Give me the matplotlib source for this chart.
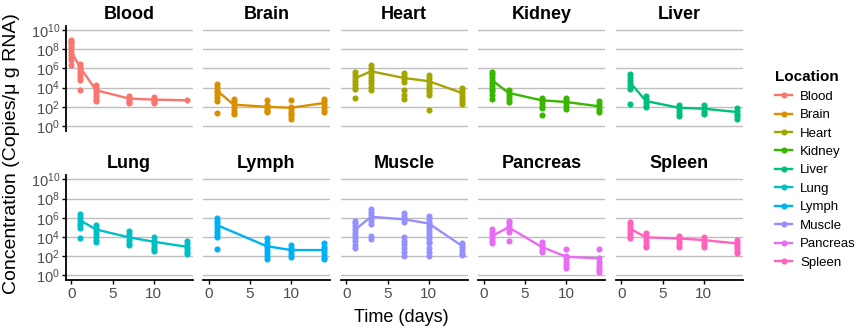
import matplotlib
matplotlib.use("Agg")
import matplotlib.pyplot as plt
from matplotlib.lines import Line2D

plt.rcParams['font.family'] = ['Liberation Sans', 'DejaVu Sans']
plt.rcParams['mathtext.fontset'] = 'custom'
plt.rcParams['mathtext.rm'] = 'Liberation Sans'

organs = ["Blood", "Brain", "Heart", "Kidney", "Liver",
          "Lung", "Lymph", "Muscle", "Pancreas", "Spleen"]
colors = ["#F8766D", "#D89000", "#A3A500", "#39B600", "#00BF7D",
          "#00BFC4", "#00B0F6", "#9590FF", "#E76BF3", "#FF62BC"]

# values are log10(copies / ug RNA)
days = [1, 3, 7, 10, 14]

blood_days = [0, 1, 3, 7, 10, 14]
blood_pts = [[8.95, 8.8, 8.6, 8.3, 8.0, 7.7, 7.4, 7.1, 6.9, 6.34],
             [6.5, 6.2, 5.9, 5.6, 5.3, 5.0, 4.8, 3.73],
             [4.25, 4.0, 3.7, 3.4, 3.1, 2.8, 2.6],
             [3.1, 2.9, 2.7, 2.5, 2.35],
             [3.0, 2.85, 2.7, 2.5, 2.4],
             [2.68]]
blood_line = [7.8, 6.2, 3.73, 2.86, 2.75, 2.68]

brain_pts = [[4.36, 4.1, 3.8, 3.5, 3.2, 2.9, 2.6, 1.36],
             [2.86, 2.6, 2.3, 2.0, 1.7, 1.4, 1.22],
             [2.75, 2.2, 2.0, 1.8, 1.6, 1.46],
             [2.75, 2.0, 1.8, 1.5, 1.2, 1.0, 0.77],
             [2.86, 2.6, 2.3, 2.0, 1.7, 1.46]]
brain_line = [3.7, 2.23, 2.0, 1.9, 2.4]

heart_pts = [[5.64, 5.3, 5.0, 4.7, 4.4, 4.1, 3.9, 2.96],
             [6.34, 6.0, 5.7, 5.4, 5.1, 4.8, 4.5, 4.1, 3.8],
             [5.47, 5.2, 4.9, 4.6, 3.73, 3.2, 2.86],
             [5.3, 5.0, 4.7, 4.4, 4.1, 3.8, 3.5, 3.2, 1.7],
             [4.0, 3.7, 3.4, 3.1, 2.8, 2.5, 2.33]]
heart_line = [4.95, 5.7, 5.0, 4.67, 3.45]

kidney_pts = [[5.64, 5.4, 5.1, 4.8, 4.5, 4.2, 3.9, 3.6, 3.2, 2.86],
              [3.73, 3.4, 3.1, 2.8, 2.5],
              [2.96, 2.7, 2.4, 2.1, 1.92, 1.11],
              [2.96, 2.7, 2.4, 2.1, 1.8],
              [2.6, 2.3, 2.0, 1.7, 1.46]]
kidney_line = [4.77, 3.45, 2.68, 2.5, 2.05]

liver_pts = [[5.4, 5.1, 4.8, 4.5, 4.2, 3.9, 2.33],
             [3.1, 2.8, 2.5, 2.2, 1.99],
             [2.16, 1.9, 1.6, 1.3, 1.0],
             [2.16, 1.9, 1.6, 1.4, 1.22],
             [1.88, 1.6, 1.3, 1.0, 0.77]]
liver_line = [4.6, 2.6, 1.9, 1.8, 1.46]

lung_pts = [[6.38, 6.1, 5.8, 5.5, 5.2, 4.89, 3.91],
            [5.23, 4.9, 4.6, 4.3, 4.0, 3.7, 3.5],
            [4.64, 4.3, 4.0, 3.7, 3.4, 3.15],
            [3.95, 3.6, 3.3, 3.0, 2.7, 2.56],
            [3.6, 3.3, 3.0, 2.7, 2.4, 2.2]]
lung_line = [5.76, 4.78, 3.95, 3.5, 2.97]

lymph_days = [1, 7, 10, 14]
lymph_pts = [[6.0, 5.7, 5.4, 5.1, 4.8, 4.5, 4.2, 3.95, 2.73],
             [3.84, 3.5, 3.2, 2.9, 2.6, 2.3, 2.0, 1.65],
             [3.15, 2.8, 2.5, 2.2, 1.86],
             [3.32, 3.0, 2.7, 2.4, 2.1, 1.8, 1.65]]
lymph_line = [5.23, 3.04, 2.63, 2.63]

muscle_pts = [[5.69, 5.4, 5.1, 4.8, 4.5, 4.2, 3.9, 3.6, 3.2, 2.8],
              [6.87, 6.6, 6.3, 6.0, 5.7, 5.34, 4.09, 3.74],
              [6.52, 6.2, 5.9, 5.6, 3.95, 3.6, 3.25, 2.8, 2.4, 2.0],
              [6.2, 5.9, 5.6, 5.3, 5.0, 4.7, 4.4, 4.1, 3.8, 3.5, 3.32, 2.8, 2.4, 2.0],
              [3.39, 3.1, 2.8, 2.5, 2.2, 2.1]]
muscle_line = [4.7, 6.1, 5.83, 5.4, 3.08]

pancreas_pts = [[4.78, 4.5, 4.2, 3.9, 3.6, 3.32],
                [5.69, 5.4, 5.1, 4.8, 4.5, 3.6],
                [3.5, 3.2, 2.9, 2.6, 2.45],
                [2.7, 2.0, 1.7, 1.4, 1.1, 0.71],
                [2.7, 1.76, 1.4, 1.1, 0.8, 0.5, 0.37]]
pancreas_line = [4.1, 5.0, 2.97, 1.93, 1.76]

spleen_pts = [[5.58, 5.3, 5.0, 4.7, 4.4, 4.1, 3.84],
              [4.36, 4.0, 3.7, 3.4, 3.1, 2.9],
              [4.09, 3.8, 3.5, 3.2, 2.97],
              [3.95, 3.7, 3.4, 3.2, 2.97],
              [3.67, 3.4, 3.1, 2.8, 2.5, 2.28]]
spleen_line = [4.89, 3.95, 3.84, 3.67, 3.32]

panel_days = [blood_days, days, days, days, days,
              days, lymph_days, days, days, days]
panel_pts = [blood_pts, brain_pts, heart_pts, kidney_pts, liver_pts,
             lung_pts, lymph_pts, muscle_pts, pancreas_pts, spleen_pts]
panel_line = [blood_line, brain_line, heart_line, kidney_line, liver_line,
              lung_line, lymph_line, muscle_line, pancreas_line, spleen_line]

W, H = 858, 333
fig = plt.figure(figsize=(W / 100, H / 100), dpi=100)

yticks = [10.0 ** k for k in range(0, 11, 2)]
ylabels = [r'$\mathregular{10^{%d}}$' % k for k in range(0, 11, 2)]

for i, name in enumerate(organs):
    row, col = divmod(i, 5)
    left = 65.5 + col * 137.5
    top = 25.7 if row == 0 else 175
    ax = fig.add_axes([left / W, 1 - (top + 105) / H, 127 / W, 105 / H])
    ax.set_yscale('log')
    ax.set_ylim(10 ** -0.49, 10 ** 10.45)
    ax.set_xlim(-0.7, 14.7)
    ax.minorticks_off()
    ax.set_yticks(yticks)
    ax.set_xticks([0, 5, 10])
    ax.grid(axis='y', color='#BEBEBE', lw=1.0)
    ax.set_axisbelow(True)
    for s in ax.spines.values():
        s.set_visible(False)
    c = colors[i]
    d = panel_days[i]
    ax.plot(d, [10 ** v for v in panel_line[i]], color=c, lw=1.7,
            solid_capstyle='round')
    for t, vals in zip(d, panel_pts[i]):
        ax.plot([t] * len(vals), [10 ** v for v in vals], 'o', color=c,
                ms=4.4, mew=0)
    ax.set_title(name, fontsize=13, fontweight='bold', pad=5)
    if col == 0:
        ax.spines['left'].set_visible(True)
        ax.spines['left'].set_linewidth(1.3)
        ax.set_yticklabels(ylabels)
        ax.tick_params(axis='y', length=3, width=1, labelsize=10.5,
                       labelcolor='#4D4D4D', pad=1)
    else:
        ax.tick_params(axis='y', left=False, labelleft=False)
    if row == 1:
        ax.spines['bottom'].set_visible(True)
        ax.spines['bottom'].set_linewidth(1.3)
        ax.tick_params(axis='x', length=3, width=1, labelsize=11,
                       labelcolor='#4D4D4D', pad=2)
    else:
        ax.tick_params(axis='x', bottom=False, labelbottom=False)

fig.text(12 / W, 1 - 154 / H, u"Concentration (Copies/\u03bc g RNA)",
         rotation=90, ha='center', va='center', fontsize=14)
fig.text(401 / W, 1 - 318 / H, "Time (days)", ha='center', va='center',
         fontsize=13)

handles = [Line2D([], [], color=c, lw=1.7, marker='o', ms=4.4, mew=0)
           for c in colors]
leg = fig.legend(handles, organs, loc='upper left',
                 bbox_to_anchor=(770 / W, 1 - 65 / H), frameon=False,
                 title="Location", fontsize=9.5, handlelength=1.3,
                 handletextpad=0.6, labelspacing=0.47, borderaxespad=0)
leg.get_title().set_fontweight('bold')
leg.get_title().set_fontsize(11)
leg._legend_box.align = 'left'

fig.savefig("out.png", dpi=100)
